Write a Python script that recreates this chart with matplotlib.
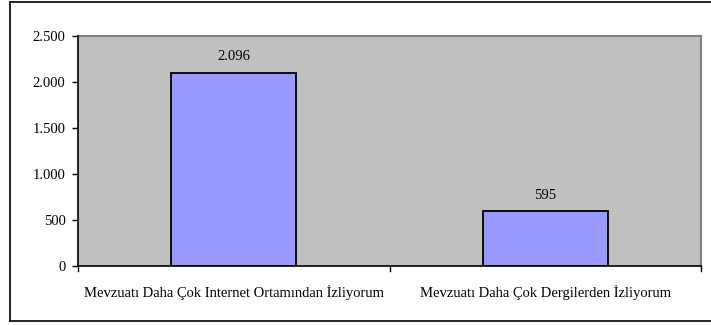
import matplotlib
matplotlib.use("Agg")
import matplotlib.pyplot as plt
from matplotlib.lines import Line2D

categories = ["Mevzuatı Daha Çok Internet Ortamından İzliyorum",
              "Mevzuatı Daha Çok Dergilerden İzliyorum"]
values = [2096, 595]
value_labels = ["2.096", "595"]
y_ticks = [0, 500, 1000, 1500, 2000, 2500]
y_tick_labels = ["0", "500", "1.000", "1.500", "2.000", "2.500"]

W, H = 711, 325
fig = plt.figure(figsize=(W / 100, H / 100), dpi=100)
fig.patch.set_facecolor("white")

# outer chart frame (left, top, bottom)
frame = [
    ((10 / W, 10 / W), (1 - 2 / H, 1 - 321 / H)),
    ((10 / W, 1.0), (1 - 2 / H, 1 - 2 / H)),
    ((10 / W, 1.0), (1 - 321 / H, 1 - 321 / H)),
]
for xs, ys in frame:
    fig.add_artist(Line2D(xs, ys, color="black", lw=1.2, transform=fig.transFigure))

left, right, top, bottom = 78, 701, 36, 266
ax = fig.add_axes([left / W, 1 - bottom / H, (right - left) / W, (bottom - top) / H])
ax.set_facecolor("#c0c0c0")

font = {"family": "Liberation Serif", "size": 10.5}

x = list(range(len(categories)))
ax.bar(x, values, width=0.4, color="#9999ff", edgecolor="black", linewidth=1.3, zorder=3)
for xi, v, lab in zip(x, values, value_labels):
    ax.annotate(lab, (xi, v), xytext=(0, 7), textcoords="offset points",
                ha="center", va="bottom", color="black", **font)

ax.set_xlim(-0.5, len(categories) - 0.5)
ax.set_ylim(0, 2500)
ax.set_yticks(y_ticks)
ax.set_yticklabels(y_tick_labels, fontdict=font)
ax.set_xticks(x)
ax.set_xticklabels(categories, fontdict=font)
ax.tick_params(axis="x", length=0, pad=14)
ax.tick_params(axis="y", length=4, width=1, direction="out", pad=5)

# category boundary ticks below the x axis
for b in [i - 0.5 for i in range(len(categories) + 1)]:
    ax.plot([b, b], [0, -0.02], transform=ax.get_xaxis_transform(),
            color="black", lw=1, clip_on=False, zorder=4)

for s in ["top", "right"]:
    ax.spines[s].set_color("#808080")
    ax.spines[s].set_linewidth(1.5)
for s in ["left", "bottom"]:
    ax.spines[s].set_color("black")
    ax.spines[s].set_linewidth(1.2)
    ax.spines[s].set_zorder(5)

fig.savefig("out.png", dpi=100)
